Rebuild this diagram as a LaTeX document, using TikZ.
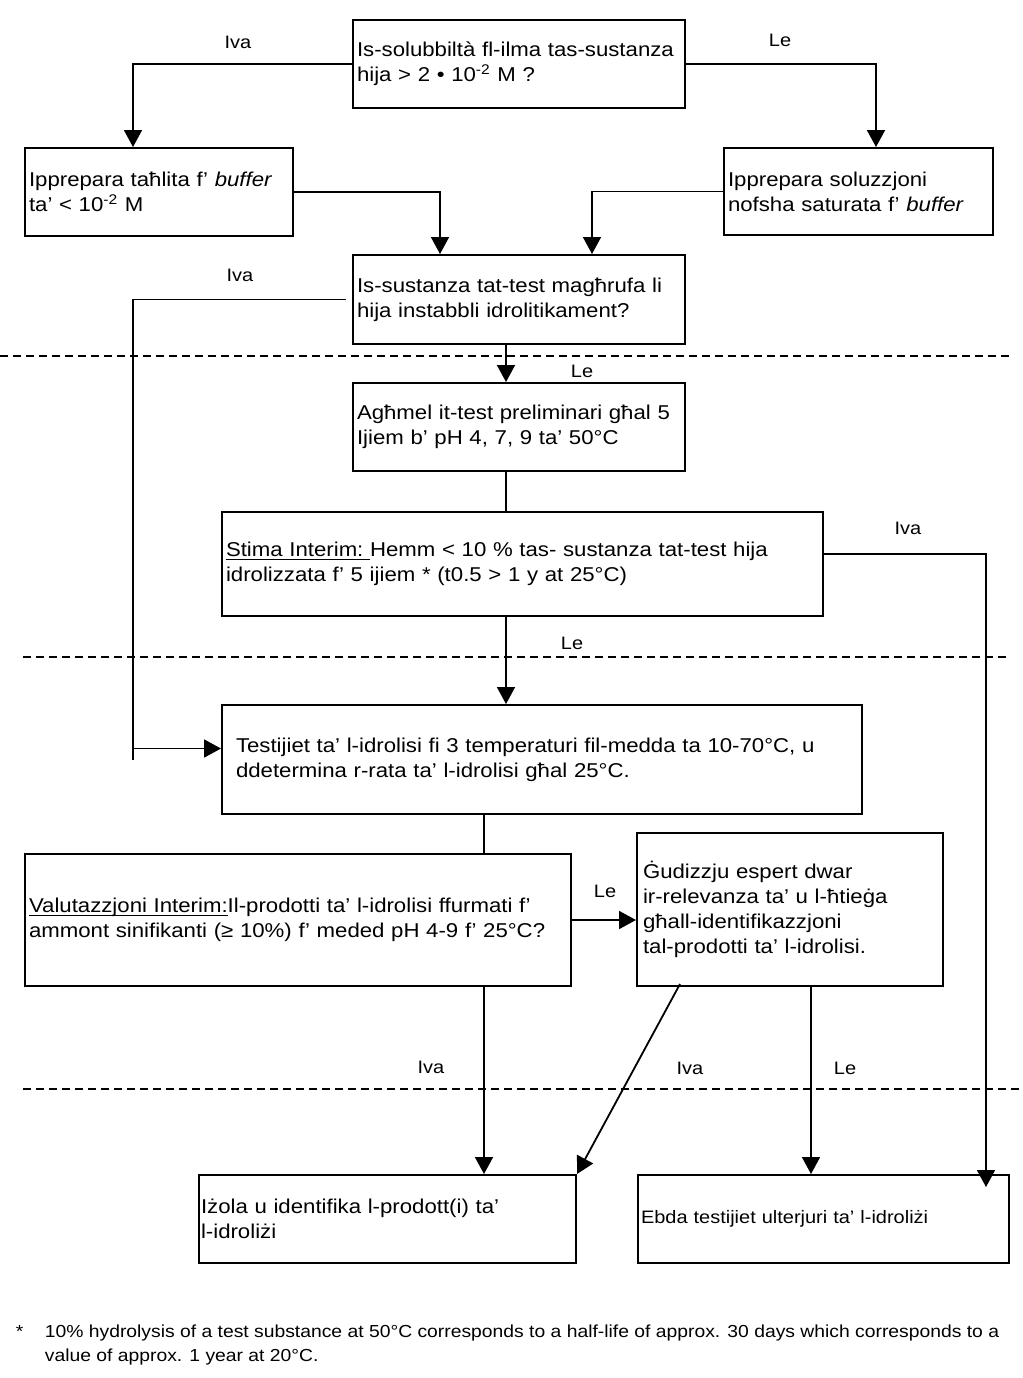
\documentclass[tikz,border=0pt]{standalone}
\usepackage{fontspec}
\setmainfont{Liberation Sans}[FakeStretch=1.11]
\usetikzlibrary{arrows.meta}
\newcommand{\undl}[1]{\setbox0\hbox{#1}\rlap{\rule[-1.6pt]{\wd0}{0.55pt}}\box0}

\begin{document}
\begin{tikzpicture}[
    x=0.5pt, y=-0.5pt,
    >={Triangle[length=8.5pt, width=9pt]},
    line width=0.9pt,
    box/.style={draw, line width=1pt, anchor=north west, align=left,
        inner xsep=2pt, inner ysep=0pt,
        font=\fontsize{10}{12.5}\selectfont},
    lbl/.style={font=\fontsize{9}{11}\selectfont},
    divider/.style={dash pattern=on 4pt off 2.5pt, line width=0.9pt},
]

\useasboundingbox (0,0) rectangle (1023,1378);

% --- Columns of the vertical connectors ---
\coordinate (colA) at (133,0);
\coordinate (colB) at (876,0);
\coordinate (colC) at (440,0);
\coordinate (colD) at (592,0);
\coordinate (colM) at (506,0);
\coordinate (colT) at (484,0);
\coordinate (colR) at (986,0);
\coordinate (colJ) at (811,0);

% --- Stage dividers ---
\draw[divider] (0,356) -- (1010,356);
\draw[divider] (23,657) -- (1010,657);
\draw[divider] (23,1089) -- (1023,1089);

% --- Boxes ---
\node[box, minimum width=166pt, text width=162pt, minimum height=44pt]
    (solub) at (352,19)
    {Is-solubbiltà fl-ilma tas-sustanza\\hija > 2 • 10\textsuperscript{-2} M ?};
\node[box, minimum width=134pt, text width=130pt, minimum height=44pt]
    (dilute) at (24,147)
    {Ipprepara taħlita f’ \textit{buffer}\\ta’ < 10\textsuperscript{-2} M};
\node[box, minimum width=134.5pt, text width=130.5pt, minimum height=43.5pt]
    (satur) at (723,147)
    {Ipprepara soluzzjoni\\nofsha saturata f’ \textit{buffer}};
\node[box, minimum width=166pt, text width=162pt, minimum height=44.5pt]
    (known) at (352,254)
    {Is-sustanza tat-test magħrufa li\\hija instabbli idrolitikament?};
\node[box, minimum width=166pt, text width=162pt, minimum height=44pt]
    (prelim) at (352,382)
    {Agħmel it-test preliminari għal 5\\Ijiem b’ pH 4, 7, 9 ta’ 50°C};
\node[box, minimum width=300.5pt, text width=296.5pt, minimum height=52pt]
    (stima) at (221,511)
    {\undl{Stima Interim:\ }Hemm < 10 \% tas- sustanza tat-test hija\\idrolizzata f’ 5 ijiem * (t0.5 > 1 y at 25°C)};
\node[box, inner xsep=7pt, minimum width=320pt, text width=306pt, minimum height=54.5pt]
    (tests) at (221,704)
    {Testijiet ta’ l-idrolisi fi 3 temperaturi fil-medda ta 10-70°C, u\\ddetermina r-rata ta’ l-idrolisi għal 25°C.};
\node[box, minimum width=273pt, text width=269pt, minimum height=66pt]
    (valut) at (24,853)
    {\undl{Valutazzjoni Interim:}Il-prodotti ta’ l-idrolisi ffurmati f’\\ammont sinifikanti (≥ 10\%) f’ meded pH 4-9 f’ 25°C?};
\node[box, inner xsep=3pt, minimum width=153pt, text width=147pt, minimum height=76.5pt]
    (judge) at (636,832)
    {Ġudizzju espert dwar\\ir-relevanza ta’ u l-ħtieġa\\għall-identifikazzjoni\\tal-prodotti ta’ l-idrolisi.};
\node[box, inner xsep=1pt, minimum width=188.5pt, text width=186.5pt, minimum height=44pt]
    (isolate) at (198,1174)
    {Iżola u identifika l-prodott(i) ta’\\l-idroliżi};
\node[box, inner xsep=1.5pt, minimum width=185.5pt, text width=182.5pt, minimum height=44pt,
      font=\fontsize{9}{11}\selectfont]
    (stop) at (637,1174)
    {Ebda testijiet ulterjuri ta’ l-idroliżi};

% --- Connectors ---
\draw[->] (solub.west) -| (dilute.north -| colA);
\draw[->] (solub.east) -| (satur.north -| colB);
\draw[->] (dilute.east) -| (known.north -| colC);
\draw[->] (satur.west) -| (known.north -| colD);

\draw[shorten <=3pt] (known.west) -| (colA |- tests.west);
\coordinate (railin) at ([yshift=5.5pt]tests.west);
\draw[->] (railin -| colA) -- (railin);

\draw[->] (known.south -| colM) -- (prelim.north -| colM);
\draw (prelim.south -| colM) -- (stima.north -| colM);
\draw[->] (stima.south -| colM) -- (tests.north -| colM);

\coordinate (ivaout) at ([yshift=5pt]stima.east);
\coordinate (stopin) at ([yshift=-6.5pt]stop.north);
\draw[->] (ivaout) -| (stopin -| colR);

\draw (tests.south -| colT) -- (valut.north -| colT);
\draw[->] (valut.east) -- (judge.west |- valut.east);
\draw[->] (valut.south -| colT) -- (isolate.north -| colT);
\draw[->] ([xshift=22pt, yshift=1.5pt]judge.south west) -- (isolate.north east);
\draw[->] (judge.south -| colJ) -- (stop.north -| colJ);

% --- Branch labels ---
\node[lbl] (ivaA) at (238,42) {Iva};
\node[lbl] (leA) at (780,40) {Le};
\node[lbl] (ivaB) at (240,275) {Iva};
\node[lbl] (leB) at (582,371) {Le};
\node[lbl] (ivaC) at (908,528) {Iva};
\node[lbl] (leC) at (572,643) {Le};
\node[lbl] (leD) at (605,891) {Le};
\node[lbl] (ivaD) at (431,1067) {Iva};
\node[lbl] (ivaE) at (690,1068) {Iva};
\node[lbl] (leE) at (845,1068) {Le};

% --- Footnote ---
\node[anchor=base west, inner sep=0pt, font=\fontsize{8.7}{12}\selectfont]
    (star) at (15,1337) {*};
\node[anchor=north west, inner sep=0pt, align=left, font=\fontsize{8.7}{12}\selectfont]
    (footnote) at (44,1324)
    {10\% hydrolysis of a test substance at 50°C corresponds to a half-life of approx. 30 days which corresponds to a\\value of approx. 1 year at 20°C.};

\end{tikzpicture}
\end{document}
